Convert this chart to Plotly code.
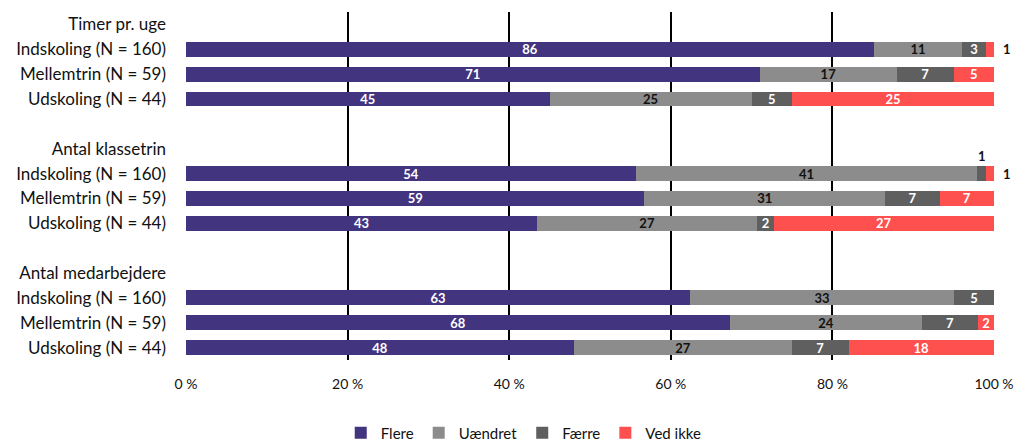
import plotly.graph_objects as go

groups = ["Timer pr. uge", "Antal klassetrin", "Antal medarbejdere"]
levels = ["Indskoling (N = 160)", "Mellemtrin (N = 59)", "Udskoling (N = 44)"]

flere = [86, 71, 45, 54, 59, 43, 63, 68, 48]
uaendret = [11, 17, 25, 41, 31, 27, 33, 24, 27]
faerre = [3, 7, 5, 1, 7, 2, 5, 7, 7]
ved_ikke = [1, 5, 25, 1, 7, 27, 0, 2, 18]

x_ticks = [0, 20, 40, 60, 80, 100]

series_names = ["Flere", "Uændret", "Færre", "Ved ikke"]
series_vals = [flere, uaendret, faerre, ved_ikke]
colors = ["#42347f", "#8c8c8c", "#5f5f5f", "#ff5050"]
text_colors = ["white", "#111111", "white", "white"]

FONT = "Lato"

bar_rows, tickvals, ticktext = [], [], []
for g, name in enumerate(groups):
    base = g * 5
    tickvals.append(base)
    ticktext.append(name)
    for i, lv in enumerate(levels):
        bar_rows.append(base + 1 + i)
        tickvals.append(base + 1 + i)
        ticktext.append(lv)

fig = go.Figure()
for name, vals, col, tcol in zip(series_names, series_vals, colors, text_colors):
    labels = [str(v) if v > 1 else "" for v in vals]
    fig.add_trace(go.Bar(
        y=bar_rows, x=vals, name=name, orientation="h",
        marker=dict(color=col, line=dict(width=0)),
        text=labels, textposition="inside", insidetextanchor="middle",
        textangle=0, textfont=dict(color=tcol, size=13, family=FONT, weight="bold"),
        width=0.6,
    ))

for idx, row in enumerate(bar_rows):
    total = flere[idx] + uaendret[idx] + faerre[idx] + ved_ikke[idx]
    if faerre[idx] == 1:
        xc = (flere[idx] + uaendret[idx] + faerre[idx] / 2) / total * 100
        fig.add_annotation(x=xc, y=row - 0.72, text="1", showarrow=False,
                           xref="x", yref="y",
                           font=dict(size=13, color="#111111", family=FONT, weight="bold"))
    if ved_ikke[idx] == 1:
        fig.add_annotation(x=1, y=row, text="1", showarrow=False, xanchor="left",
                           xshift=7, xref="paper", yref="y",
                           font=dict(size=13, color="#111111", family=FONT, weight="bold"))

fig.update_layout(
    barmode="stack", barnorm="percent",
    width=1019, height=441,
    margin=dict(l=186, r=25, t=12, b=81, autoexpand=False),
    plot_bgcolor="white", paper_bgcolor="white",
    font=dict(family=FONT, color="#111111"),
    uniformtext=dict(minsize=13, mode="show"),
    xaxis=dict(range=[0, 100], tickmode="array", tickvals=x_ticks,
               ticktext=[f"{v} %" for v in x_ticks], automargin=False,
               showgrid=True, gridcolor="black", gridwidth=2, zeroline=False,
               showline=False, tickfont=dict(size=14, family=FONT), ticks="",
               ticklabelstandoff=14),
    yaxis=dict(range=[13.5, -0.5], tickmode="array", tickvals=tickvals, ticktext=ticktext,
               automargin=False, showgrid=False, zeroline=False, showline=False,
               tickfont=dict(size=17, family=FONT), ticks="", ticklabelstandoff=19),
    legend=dict(orientation="h", x=0.418, y=-0.21, xanchor="center", yanchor="middle",
                font=dict(size=15, family=FONT), traceorder="normal"),
    showlegend=True,
)

fig.write_html("out.html", config={"displayModeBar": False},
               post_script="document.body.style.margin='0px';")
